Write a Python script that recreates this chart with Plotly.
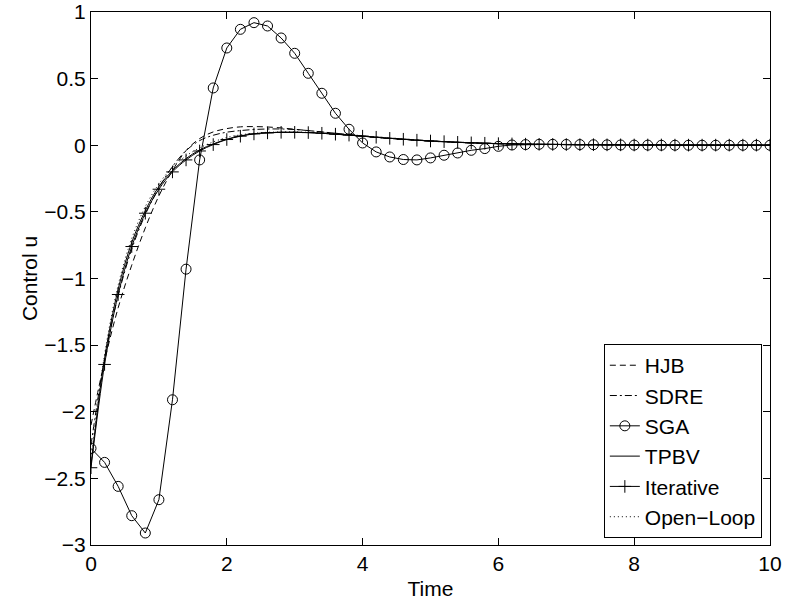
import plotly.graph_objects as go

t = [round(0.2 * i, 1) for i in range(51)]

tail = [0.06, 0.052, 0.045, 0.038, 0.032, 0.027, 0.022, 0.018, 0.015, 0.012,
        0.01, 0.008, 0.007, 0.006, 0.005, 0.004, 0.004, 0.003, 0.003, 0.002,
        0.002, 0.002, 0.001, 0.001, 0.001, 0.001, 0.001, 0.001, 0.001, 0.001]

hjb = [-2.1, -1.62, -1.22, -0.9, -0.62, -0.38, -0.19, -0.04, 0.05, 0.1, 0.125,
       0.138, 0.14, 0.137, 0.13, 0.12, 0.11, 0.1, 0.09, 0.08, 0.07] + tail

sdre = [-2.25, -1.6, -1.13, -0.78, -0.52, -0.32, -0.16, -0.04, 0.035, 0.075, 0.098,
        0.11, 0.118, 0.122, 0.122, 0.118, 0.11, 0.1, 0.09, 0.08, 0.07] + tail

sga = [-2.275, -2.38, -2.56, -2.78, -2.91, -2.66, -1.91, -0.93, -0.11, 0.43, 0.73,
       0.87, 0.92, 0.895, 0.805, 0.69, 0.54, 0.39, 0.24, 0.12, 0.017,
       -0.05, -0.088, -0.107, -0.11, -0.095, -0.075, -0.058, -0.038, -0.025, -0.008,
       0.002, 0.005, 0.007, 0.007, 0.006, 0.005, 0.004, 0.003, 0.002, 0.001,
       0.001, 0, 0, 0, 0, 0, 0, 0, 0, 0]

tpbv = [-2.4, -1.6, -1.08, -0.73, -0.49, -0.31, -0.19, -0.1, -0.035, 0.01, 0.045,
        0.07, 0.086, 0.094, 0.097, 0.097, 0.095, 0.09, 0.083, 0.076, 0.068] + tail

iterative = [-2.42, -1.645, -1.12, -0.76, -0.51, -0.33, -0.2, -0.11, -0.043, 0.005, 0.043,
             0.068, 0.085, 0.093, 0.097, 0.097, 0.095, 0.09, 0.083, 0.076, 0.068] + tail

open_loop = [-2.35, -1.57, -1.05, -0.7, -0.46, -0.29, -0.165, -0.08, -0.02, 0.025, 0.058,
             0.078, 0.09, 0.097, 0.1, 0.1, 0.097, 0.092, 0.085, 0.077, 0.069] + tail

x_ticks = [0, 2, 4, 6, 8, 10]
x_labels = ["0", "2", "4", "6", "8", "10"]
y_ticks = [-3, -2.5, -2, -1.5, -1, -0.5, 0, 0.5, 1]
y_labels = ["\u22123", "\u22122.5", "\u22122", "\u22121.5", "\u22121", "\u22120.5", "0", "0.5", "1"]

FONT = "Liberation Sans, Arial, sans-serif"
TICK_SIZE = 21
LEG_SIZE = 21
fig = go.Figure()

fig.add_trace(go.Scatter(x=t, y=hjb, name="HJB", mode="lines",
                         line=dict(color="black", width=1, dash="6px,4px", shape="spline")))
fig.add_trace(go.Scatter(x=t, y=sdre, name="SDRE", mode="lines",
                         line=dict(color="black", width=1, dash="7px,3px,2px,3px", shape="spline")))
fig.add_trace(go.Scatter(x=t, y=sga, name="SGA", mode="lines+markers",
                         line=dict(color="black", width=1),
                         marker=dict(symbol="circle-open", size=10, color="black",
                                     line=dict(width=1, color="black"))))
fig.add_trace(go.Scatter(x=t, y=tpbv, name="TPBV", mode="lines",
                         line=dict(color="black", width=1, shape="spline")))
fig.add_trace(go.Scatter(x=t, y=iterative, name="Iterative", mode="lines+markers",
                         line=dict(color="black", width=1, shape="spline"),
                         marker=dict(symbol="cross-thin-open", size=9, color="black",
                                     line=dict(width=1, color="black"))))
fig.add_trace(go.Scatter(x=t, y=open_loop, name="Open\u2212Loop", mode="lines",
                         line=dict(color="black", width=1, dash="1px,3px", shape="spline")))

axis_common = dict(showline=True, linecolor="black", linewidth=1, mirror="ticks",
                   ticks="inside", ticklen=7, tickcolor="black", tickwidth=1,
                   showgrid=False, zeroline=False, automargin=False,
                   tickfont=dict(family=FONT, size=TICK_SIZE, color="black"))

fig.update_xaxes(range=[0, 10], tickvals=x_ticks, ticktext=x_labels,
                 title=dict(text="Time", font=dict(family=FONT, size=TICK_SIZE, color="black"), standoff=7),
                 **axis_common)
fig.update_yaxes(range=[-3, 1], tickvals=y_ticks, ticktext=y_labels,
                 title=dict(text="Control u", font=dict(family=FONT, size=TICK_SIZE, color="black"), standoff=0),
                 **axis_common)

fig.update_layout(
    width=786, height=606,
    margin=dict(l=91, r=16, t=12, b=61),
    paper_bgcolor="white", plot_bgcolor="white",
    font=dict(family=FONT, size=TICK_SIZE, color="black"),
    showlegend=True,
    legend=dict(x=0.988, y=0.013, xanchor="right", yanchor="bottom",
                bgcolor="white", bordercolor="black", borderwidth=1,
                font=dict(family=FONT, size=LEG_SIZE, color="black"),
                tracegroupgap=0),
)

fig.write_html("out.html")
